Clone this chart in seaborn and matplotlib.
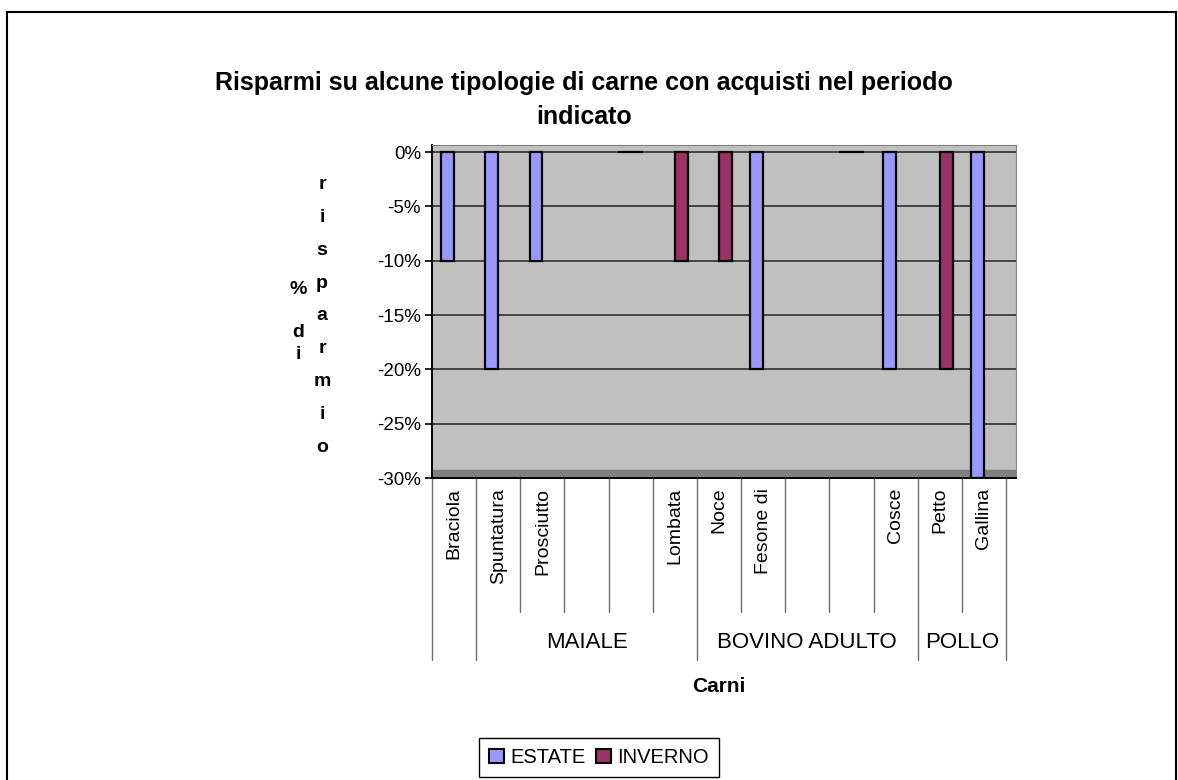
import matplotlib
matplotlib.use("Agg")
import matplotlib.pyplot as plt
import matplotlib.transforms as mtransforms
from matplotlib.patches import Rectangle
import seaborn as sns
import numpy as np
import pandas as pd

# dati
carni = ["Braciola", "Spuntatura", "Prosciutto", "", "", "Lombata", "Noce",
         "Fesone di", "", "", "Cosce", "Petto", "Gallina"]
gruppi = ["", "MAIALE", "BOVINO ADULTO", "POLLO"]
gruppo_size = [1, 5, 5, 2]
estate = [-10, -20, -10, np.nan, 0, np.nan, np.nan, -20, np.nan, 0, -20, np.nan, -30]
inverno = [np.nan, np.nan, np.nan, np.nan, 0, -10, -10, np.nan, np.nan, 0, np.nan, -20, np.nan]
stagioni = ["ESTATE", "INVERNO"]
colori = ["#9999FF", "#993366"]
yticks = [0, -5, -10, -15, -20, -25, -30]

n = len(carni)
df = pd.DataFrame({
    "pos": list(range(n)) * 2,
    "stagione": [stagioni[0]] * n + [stagioni[1]] * n,
    "valore": estate + inverno,
})

sns.set_style("white")
plt.rcParams["font.family"] = ["Liberation Sans", "DejaVu Sans"]
plt.rcParams["text.color"] = "black"
plt.rcParams["xtick.color"] = "black"
plt.rcParams["ytick.color"] = "black"
plt.rcParams["axes.labelcolor"] = "black"

W, H = 1178, 780
fig = plt.figure(figsize=(W / 100, H / 100), dpi=100)
ax = fig.add_axes([432 / W, 1 - 478 / H, (1016 - 432) / W, (478 - 145) / H])

ax.set_facecolor("#C0C0C0")
for y in yticks[:-1]:
    ax.axhline(y, color="#3a3a3a", lw=1.3, zorder=0.5)
ax.axhspan(-30, -29.3, color="#808080", zorder=0.6)

sns.barplot(data=df, x="pos", y="valore", hue="stagione", hue_order=stagioni,
            palette=colori, width=0.58, edgecolor="black", linewidth=1.6,
            errorbar=None, legend=False, saturation=1, ax=ax)

ax.set_xlim(-0.5, n - 0.5 + 10 / 44.15)
ax.set_ylim(-30, 0.65)

for s in ["top", "right"]:
    ax.spines[s].set_color("#808080")
for s in ["left", "bottom"]:
    ax.spines[s].set_color("black")
    ax.spines[s].set_linewidth(1.4)

ax.set_yticks(yticks)
ax.set_yticklabels([f"{v}%" for v in yticks])
ax.tick_params(axis="y", direction="out", length=5, width=1.2, color="black",
               labelsize=13.5, pad=3, left=True)
ax.set_xticks(range(n))
ax.set_xticklabels(carni, rotation=90, va="top", ha="center", fontsize=14)
ax.tick_params(axis="x", length=0, pad=7)
ax.set_xlabel("")
ax.set_ylabel("")

# separatori dell'asse delle categorie
trans = mtransforms.blended_transform_factory(ax.transData, ax.transAxes)
confini = np.cumsum([0] + gruppo_size) - 0.5
for b in np.arange(-0.5, n, 1):
    basso = -0.547 if b in confini else -0.402
    ax.plot([b, b], [0, basso], color="#707070", lw=1, transform=trans, clip_on=False)
for g, a, b in zip(gruppi, confini[:-1], confini[1:]):
    ax.text((a + b) / 2, -0.495, g, transform=trans, ha="center", va="center", fontsize=16)

ax.text(0.5 * (n - 1), -0.625, "Carni", transform=trans, ha="center",
        va="center", fontsize=15, fontweight="bold")

fig.text(584 / W, 1 - 100 / H,
         "Risparmi su alcune tipologie di carne con acquisti nel periodo\nindicato",
         ha="center", va="center", fontsize=18, fontweight="bold", linespacing=1.5)

# etichetta asse y in verticale
fig.text(298 / W, 1 - 322 / H, "%\n\nd\ni", ha="center", va="center",
         fontsize=14, fontweight="bold", linespacing=1.35)
fig.text(322 / W, 1 - 316 / H, "\n".join("risparmio"), ha="center", va="center",
         fontsize=14, fontweight="bold", linespacing=2.22)

handles = [Rectangle((0, 0), 1, 1, fc=c, ec="black", lw=1.5) for c in colori]
fig.legend(handles, stagioni, loc="upper center", bbox_to_anchor=(599 / W, 1 - 738 / H),
           ncol=2, frameon=True, fancybox=False, edgecolor="black", framealpha=1,
           fontsize=14.5, handlelength=0.75, handleheight=0.75, handletextpad=0.3,
           columnspacing=0.5, borderpad=0.5, borderaxespad=0)

fig.patches.append(Rectangle((7 / W, -0.05), 1169 / W, (H - 12) / H + 0.05,
                             transform=fig.transFigure, fill=False, ec="black", lw=1.5))

fig.savefig("out.png", dpi=100)
